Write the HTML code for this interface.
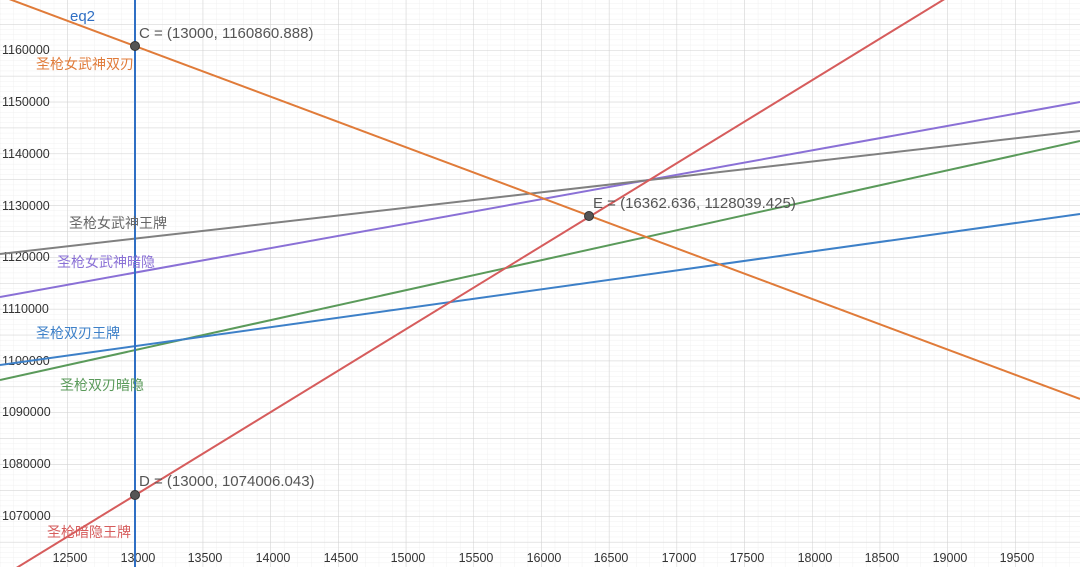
<!DOCTYPE html>
<html><head><meta charset="utf-8"><style>
body{margin:0;background:#fff}
svg{display:block;font-family:"Liberation Sans","Noto Sans CJK SC",sans-serif}
</style></head><body>
<svg width="1080" height="567" viewBox="0 0 1080 567" xmlns="http://www.w3.org/2000/svg">
<defs>
<pattern id="minor" x="135" y="50" width="13.54" height="5.178" patternUnits="userSpaceOnUse">
<path d="M0 0V5.178M0 0H13.54" stroke="#f0f0f0" stroke-width="1" fill="none"/>
</pattern>
<pattern id="major" x="135" y="50" width="67.7" height="25.89" patternUnits="userSpaceOnUse">
<path d="M0 0V25.89M0 0H67.7" stroke="#d0d0d0" stroke-width="1" fill="none"/>
</pattern>
</defs>
<rect width="1080" height="567" fill="url(#minor)"/>
<rect width="1080" height="567" fill="url(#major)"/>
<g font-size="12.5" fill="#333">
<text x="2" y="54">1160000</text>
<text x="2" y="106">1150000</text>
<text x="2" y="158">1140000</text>
<text x="2" y="210">1130000</text>
<text x="2" y="261">1120000</text>
<text x="2" y="313">1110000</text>
<text x="2" y="365">1100000</text>
<text x="2" y="416">1090000</text>
<text x="2" y="468">1080000</text>
<text x="2" y="520">1070000</text>
</g>
<g font-size="12.5" fill="#333" text-anchor="middle">
<text x="70" y="562">12500</text><text x="138" y="562">13000</text><text x="205" y="562">13500</text>
<text x="273" y="562">14000</text><text x="341" y="562">14500</text><text x="408" y="562">15000</text>
<text x="476" y="562">15500</text><text x="544" y="562">16000</text><text x="611" y="562">16500</text>
<text x="679" y="562">17000</text><text x="747" y="562">17500</text><text x="815" y="562">18000</text>
<text x="882" y="562">18500</text><text x="950" y="562">19000</text><text x="1017" y="562">19500</text>
</g>
<g stroke-width="2" fill="none">
<line x1="0" y1="297" x2="1080" y2="102" stroke="#8a70d6"/>
<line x1="0" y1="254" x2="1080" y2="131" stroke="#808080"/>
<line x1="0" y1="380" x2="1080" y2="141" stroke="#5a9a5a"/>
<line x1="0" y1="365" x2="1080" y2="214" stroke="#3d80c8"/>
<line x1="0" y1="-4.4" x2="1080" y2="399" stroke="#e07b39"/>
<line x1="0" y1="578" x2="1080" y2="-84" stroke="#d65c5c"/>
<line x1="135" y1="0" x2="135" y2="567" stroke="#2f6fc4"/>
</g>
<g stroke="#333" stroke-width="1" fill="#555">
<circle cx="135" cy="46" r="4.5"/>
<circle cx="135" cy="495" r="4.5"/>
<circle cx="589" cy="216" r="4.5"/>
</g>
<g font-size="15">
<text x="70" y="21" fill="#2f6fc4">eq2</text>
<text x="139" y="38" fill="#555">C = (13000, 1160860.888)</text>
<text x="139" y="486" fill="#555">D = (13000, 1074006.043)</text>
<text x="593" y="208" fill="#555">E = (16362.636, 1128039.425)</text>
</g>
<g font-size="14">
<text x="36" y="69" fill="#e07b39">圣枪女武神双刃</text>
<text x="69" y="228" fill="#666">圣枪女武神王牌</text>
<text x="57" y="267" fill="#8a70d6">圣枪女武神暗隐</text>
<text x="36" y="338" fill="#3d80c8">圣枪双刃王牌</text>
<text x="60" y="390" fill="#5a9a5a">圣枪双刃暗隐</text>
<text x="47" y="537" fill="#d65c5c">圣枪暗隐王牌</text>
</g>
</svg>
</body></html>
